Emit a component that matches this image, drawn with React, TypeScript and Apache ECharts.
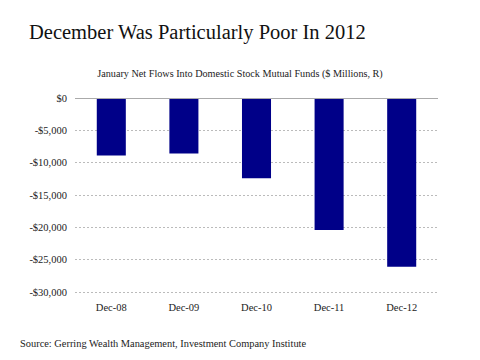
import React, { useEffect, useRef } from "react";
import * as echarts from "echarts";

const categories = ["Dec-08", "Dec-09", "Dec-10", "Dec-11", "Dec-12"];
const netFlows = [-8900, -8600, -12400, -20400, -26100];
const yTicks = { min: -30000, max: 0, interval: 5000 };

const fmt = (v: number) => {
  if (v === 0) return "$0";
  const s = Math.abs(v).toLocaleString("en-US");
  return (v < 0 ? "-$" : "$") + s;
};

export default function App() {
  const ref = useRef<HTMLDivElement>(null);
  useEffect(() => {
    const chart = echarts.init(ref.current!, undefined, { renderer: "svg" });
    const serif = "'Liberation Serif', 'DejaVu Serif', serif";
    chart.setOption({
      animation: false,
      backgroundColor: "#ffffff",
      textStyle: { fontFamily: serif },
      title: [
        {
          text: "December Was Particularly Poor In 2012",
          left: 24,
          top: 16,
          padding: 5,
          textStyle: { fontFamily: serif, fontSize: 20.5, fontWeight: "normal", color: "#111" },
        },
        {
          text: "January Net Flows Into Domestic Stock Mutual Funds ($ Millions, R)",
          left: "center",
          top: 63,
          textStyle: { fontFamily: serif, fontSize: 10.2, fontWeight: "normal", color: "#222" },
        },
        {
          text: "Source: Gerring Wealth Management, Investment Company Institute",
          left: 15,
          top: 333,
          textStyle: { fontFamily: serif, fontSize: 10.4, fontWeight: "normal", color: "#222" },
        },
      ],
      grid: { left: 75, right: 42, top: 98, bottom: 68 },
      xAxis: {
        type: "category",
        data: categories,
        axisLine: { show: false, onZero: false },
        axisTick: { show: false },
        axisLabel: { margin: 10, fontFamily: serif, fontSize: 10.5, color: "#222" },
      },
      yAxis: {
        type: "value",
        min: yTicks.min,
        max: yTicks.max,
        interval: yTicks.interval,
        axisLine: { show: false },
        axisTick: { show: false },
        axisLabel: { formatter: fmt, margin: 8, fontFamily: serif, fontSize: 10.5, color: "#222" },
        splitLine: { lineStyle: { color: "#bbb", type: [2, 2], width: 1 } },
      },
      series: [
        {
          type: "bar",
          data: netFlows,
          barWidth: "40%",
          itemStyle: { color: "#000088" },
          markLine: {
            silent: true,
            symbol: "none",
            label: { show: false },
            lineStyle: { color: "#aaa", type: "solid", width: 1 },
            data: [{ yAxis: 0 }],
          },
        },
      ],
    });
    return () => chart.dispose();
  }, []);
  return <div ref={ref} style={{ width: 480, height: 360, position: "absolute", left: 0, top: 0 }} />;
}
